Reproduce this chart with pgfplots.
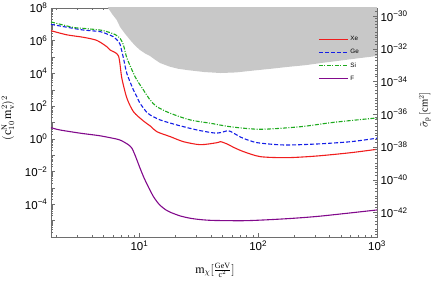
\documentclass[border=0pt]{standalone}
\usepackage{fontspec}
\setmainfont{Liberation Serif}
\newfontfamily\tickfont{Liberation Sans}
\usepackage{pgfplots}
\pgfplotsset{compat=1.18}
\definecolor{xecol}{RGB}{240,30,30}
\definecolor{gecol}{RGB}{20,30,230}
\definecolor{sicol}{RGB}{30,170,30}
\definecolor{fcol}{RGB}{130,10,140}
\definecolor{shade}{RGB}{200,200,200}
\definecolor{framecol}{RGB}{110,110,110}
\begin{document}
\begin{tikzpicture}
\begin{axis}[
    width=326pt, height=229pt, scale only axis,
    xmode=log, ymode=log,
    xmin=1.8, xmax=1000,
    axis line style={framecol, line width=0.6pt},
    tick style={framecol, line width=0.5pt},
    major tick length=4pt, minor tick length=2pt,
    tick align=inside,
    ticklabel style={font=\tickfont\fontsize{11.5}{12}\selectfont, text=black},
    ymin=1e-6, ymax=1e8,
    xtick={10,100,1000},
    xticklabels={10\textsuperscript{1},10\textsuperscript{2},10\textsuperscript{3}},
    minor xtick={2,3,4,5,6,7,8,9,20,30,40,50,60,70,80,90,200,300,400,500,600,700,800,900},
    xtick pos=both,
    ytick={1e-6,1e-5,1e-4,1e-3,1e-2,1e-1,1,1e1,1e2,1e3,1e4,1e5,1e6,1e7,1e8},
    yticklabels={,,10\textsuperscript{−4},,10\textsuperscript{−2},,10\textsuperscript{0},,10\textsuperscript{2},,10\textsuperscript{4},,10\textsuperscript{6},,10\textsuperscript{8}},
    minor ytick={2e-6,3e-6,4e-6,5e-6,6e-6,7e-6,8e-6,9e-6,2e-5,3e-5,4e-5,5e-5,6e-5,7e-5,8e-5,9e-5,2e-4,3e-4,4e-4,5e-4,6e-4,7e-4,8e-4,9e-4,2e-3,3e-3,4e-3,5e-3,6e-3,7e-3,8e-3,9e-3,0.02,0.03,0.04,0.05,0.06,0.07,0.08,0.09,0.2,0.3,0.4,0.5,0.6,0.7,0.8,0.9,2,3,4,5,6,7,8,9,20,30,40,50,60,70,80,90,200,300,400,500,600,700,800,900,2000,3000,4000,5000,6000,7000,8000,9000,2e4,3e4,4e4,5e4,6e4,7e4,8e4,9e4,2e5,3e5,4e5,5e5,6e5,7e5,8e5,9e5,2e6,3e6,4e6,5e6,6e6,7e6,8e6,9e6,2e7,3e7,4e7,5e7,6e7,7e7,8e7,9e7},
    ytick pos=left,
    xlabel={$\mathrm{m}_{\chi}[\frac{\mathrm{GeV}}{\mathrm{c}^2}]$},
    xlabel style={at={(axis description cs:0.503,-0.145)}, anchor=center, font=\fontsize{12}{13}\selectfont},
    ylabel={$(\mathrm{c}_{10}^{\mathrm{N}}\,\mathrm{m}_{\mathrm{v}}^{2})^2$},
    ylabel style={at={(axis description cs:-0.132,0.52)}, anchor=center, font=\fontsize{12}{13}\selectfont},
    legend style={draw=none, fill=none, font=\tickfont\fontsize{6.3}{7}\selectfont,
      at={(axis description cs:0.81,0.895)}, anchor=north west, row sep=3.3pt},
    legend cell align=left,
    legend image code/.code={\path[draw, #1] (0pt,0pt) -- (29pt,0pt);},
]
\addplot[draw=none, fill=shade, forget plot] coordinates {
 (5.3,1e9) (5.44,1e8) (5.9,4.2e7) (6.44,1.85e7) (6.87,6.9e6) (7.5,2.9e6) (8.35,1.1e6) (9.2,5e5) (10.1,2.7e5) (11.1,1.7e5) (12.3,1.15e5)
 (13.5,7e4) (14.95,4.3e4) (18,2.6e4) (21,1.95e4) (25.3,1.6e4) (35,1.22e4) (48.1,1.06e4) (65,1.15e4) (91.2,1.5e4) (130,1.95e4) (177,2.5e4) (250,3.2e4) (336,4.3e4) (500,6.2e4) (700,8.5e4) (1000,1.16e5)
 (1100,1.2e5) (1100,1e9)
};
\addplot[color=xecol, line width=1.1pt, smooth, tension=0.45] coordinates {
 (1.8,4.1e6) (2.44,2.3e6) (3.37,1.62e6) (4.37,1.05e6) (5.31,4.3e5) (5.66,2.7e5) (6.65,1.2e5)
 (7.10,5.3e3) (7.83,316) (8.90,46) (10.8,12.4) (12.3,6.2) (14.0,2.75) (18.2,1.36) (23.5,0.67)
 (32.6,0.44) (45.1,0.585) (48.1,0.673) (54.7,0.487) (62.2,0.3) (75.5,0.164) (104.5,0.0814)
 (176,0.0708) (315,0.09) (603,0.143) (1000,0.23)
};
\addlegendentry{Xe}
\addplot[color=gecol, line width=1.1pt, dash pattern=on 4pt off 2pt, smooth, tension=0.45] coordinates {
 (1.8,1.0e7) (2.77,5.7e6) (3.37,4.5e6) (4.66,3.6e6) (5.31,2.6e6) (6.03,1.76e6) (6.65,9e5)
 (6.87,6e5) (7.33,8.8e4) (7.83,1.0e4) (8.90,972) (9.51,379) (10.1,150) (11.55,41) (12.3,28.8)
 (14.95,14.3) (20.7,7.05) (30.5,3.5) (42.2,2.3) (48.1,2.4) (56,3.16) (62.2,2.2) (70.8,1.3)
 (75.5,1.05) (98,0.585) (164,0.423) (315,0.487) (603,0.673) (1000,1.1)
};
\addlegendentry{Ge}
\addplot[color=sicol, line width=1.1pt, dash pattern=on 4pt off 1.5pt on 1pt off 1.5pt, smooth, tension=0.45] coordinates {
 (1.8,1.4e7) (2.77,6.5e6) (3.37,5.7e6) (4.66,4.5e6) (5.31,3.6e6) (6.23,2.4e6) (6.87,1.4e6)
 (7.33,5.5e5) (7.83,9e4) (8.9,1.02e4) (9.51,4e3) (10.8,972) (12.3,238) (14.0,93) (18.2,36.6)
 (26.8,14.3) (39.6,9.0) (58.4,5.5) (104.5,3.85) (228,5.55) (435,10.3) (1000,19)
};
\addlegendentry{Si}
\addplot[color=fcol, line width=1.1pt, smooth, tension=0.45] coordinates {
 (1.8,4.8) (2.14,3.5) (3.2,2.2) (4.5,1.6) (5.66,1.18) (6.65,0.91) (7.33,0.67) (8.63,0.27)
 (10.1,0.0166) (10.8,5.0e-3) (11.55,1.75e-3) (12.3,7.0e-4) (13.1,3.0e-4) (14.0,1.49e-4)
 (14.95,8.5e-5) (16.5,4.8e-5) (18.2,3.25e-5) (22.1,1.93e-5) (26.8,1.4e-5) (32.6,1.16e-5)
 (42.2,1.03e-5) (80.7,1.0e-5) (176,1.32e-5) (336,1.9e-5) (1000,4.5e-5)
};
\addlegendentry{F}
\end{axis}
\begin{axis}[
    width=326pt, height=229pt, scale only axis,
    xmode=log, ymode=log,
    xmin=1.8, xmax=1000,
    axis line style={framecol, line width=0.6pt},
    tick style={framecol, line width=0.5pt},
    major tick length=4pt, minor tick length=2pt,
    tick align=inside,
    ticklabel style={font=\tickfont\fontsize{11.5}{12}\selectfont, text=black},
    ymin=3.1623e-44, ymax=3.1623e-30,
    axis x line=none,
    axis y line*=right,
    ytick={1e-42,1e-40,1e-38,1e-36,1e-34,1e-32,1e-30},
    yticklabels={10\textsuperscript{−42},10\textsuperscript{−40},10\textsuperscript{−38},10\textsuperscript{−36},10\textsuperscript{−34},10\textsuperscript{−32},10\textsuperscript{−30}},
    minor ytick={1e-43,1e-41,1e-39,1e-37,1e-35,1e-33,1e-31,2e-44,3e-44,5e-44,7e-44,2e-43,3e-43,5e-43,7e-43,2e-42,3e-42,5e-42,7e-42,2e-41,3e-41,5e-41,7e-41,2e-40,3e-40,5e-40,7e-40,2e-39,3e-39,5e-39,7e-39,2e-38,3e-38,5e-38,7e-38,2e-37,3e-37,5e-37,7e-37,2e-36,3e-36,5e-36,7e-36,2e-35,3e-35,5e-35,7e-35,2e-34,3e-34,5e-34,7e-34,2e-33,3e-33,5e-33,7e-33,2e-32,3e-32,5e-32,7e-32,2e-31,3e-31,5e-31,7e-31,2e-30},
    ylabel={$\tilde{\sigma}_{\mathrm{p}}\,[\mathrm{cm}^2]$},
    ylabel style={at={(axis description cs:1.147,0.555)}, anchor=center, rotate=0, font=\fontsize{10.5}{11}\selectfont},
]
\end{axis}
\pgfresetboundingbox
\path (-51pt,-47pt) rectangle (386pt,237pt);
\end{tikzpicture}
\end{document}
